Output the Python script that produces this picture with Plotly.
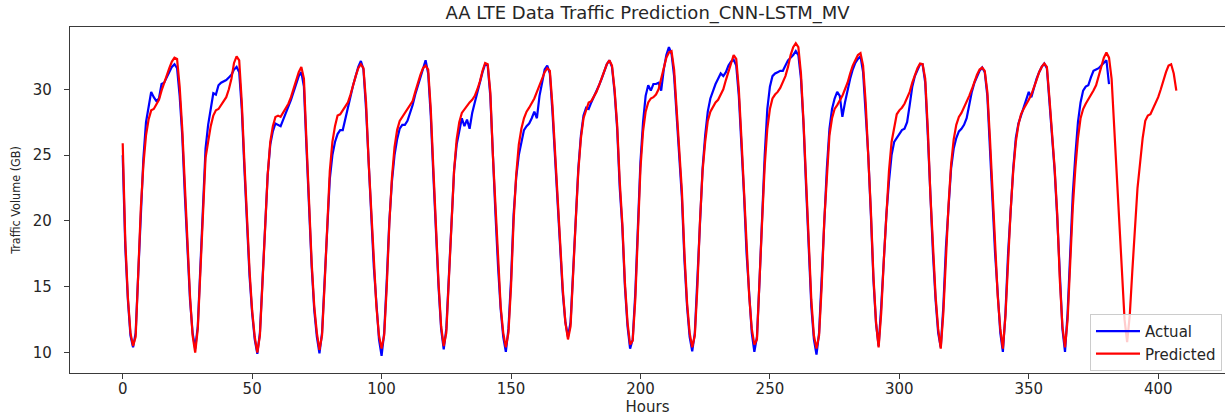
import plotly.graph_objects as go

# Hourly LTE traffic volume (GB), one day per line
actual_gb = [
    25.0, 18.0, 14.0, 11.3, 10.4, 11.5, 16.0, 21.0, 24.8, 27.5, 28.8, 29.8, 29.4, 29.1, 29.3, 30.4, 30.5, 30.9, 31.3, 31.7, 31.9, 31.6, 29.5, 26.5,
    22.0, 17.5, 14.0, 11.5, 10.3, 12.0, 16.5, 21.5, 25.5, 27.3, 28.6, 29.7, 29.6, 30.3, 30.5, 30.6, 30.7, 30.9, 31.1, 31.5, 31.7, 31.3, 28.5, 24.0,
    19.5, 15.8, 13.0, 11.0, 9.9, 11.5, 15.5, 20.0, 23.5, 25.8, 26.8, 27.4, 27.3, 27.2, 27.7, 28.2, 28.6, 29.2, 29.8, 30.4, 31.0, 31.3, 30.2, 25.5,
    20.5, 16.5, 13.2, 11.2, 9.95, 11.5, 15.5, 20.0, 23.2, 25.0, 26.0, 26.6, 26.9, 26.9, 27.8, 28.7, 29.5, 30.3, 31.0, 31.7, 32.15, 31.5, 28.5, 24.0,
    20.5, 16.5, 13.3, 11.0, 9.75, 11.5, 15.5, 20.0, 23.0, 25.0, 26.2, 27.0, 27.3, 27.3, 27.6, 28.2, 28.8, 29.6, 30.3, 31.0, 31.6, 32.2, 31.2, 28.0,
    23.5, 19.0, 15.0, 11.8, 10.25, 11.8, 15.8, 20.5, 23.8, 25.8, 26.8, 27.8, 27.2, 27.7, 27.0, 28.2, 29.0, 29.8, 30.6, 31.3, 31.9, 31.8, 29.5, 24.5,
    20.5, 16.5, 13.3, 11.2, 10.05, 11.8, 15.5, 20.5, 23.3, 25.0, 26.0, 26.9, 27.2, 27.4, 27.8, 28.3, 27.8, 29.5, 30.5, 31.5, 31.8, 31.2, 28.3, 25.0,
    21.5, 17.5, 14.5, 12.3, 11.2, 12.3, 16.0, 20.5, 24.0, 26.5, 28.0, 28.6, 28.5, 29.0, 29.4, 29.8, 30.3, 30.8, 31.3, 31.9, 32.2, 31.7, 29.8, 27.0,
    22.5, 19.5, 15.0, 12.0, 10.3, 11.0, 14.5, 20.0, 24.5, 27.5, 29.5, 30.3, 29.9, 30.4, 30.4, 30.5, 29.9, 31.5, 32.6, 33.2, 32.7, 31.0, 28.0, 24.5,
    21.8, 17.0, 13.5, 11.2, 10.1, 11.5, 15.5, 20.5, 24.0, 26.5, 28.3, 29.3, 29.9, 30.4, 30.8, 31.2, 31.0, 31.3, 31.8, 32.1, 32.25, 31.8, 29.5, 26.0,
    22.0, 17.5, 14.0, 11.5, 10.05, 11.2, 15.5, 20.5, 25.0, 28.5, 30.2, 31.0, 31.2, 31.3, 31.4, 31.4, 31.8, 32.2, 32.4, 32.6, 32.9, 32.6, 30.8, 27.3,
    22.5, 17.5, 13.5, 11.0, 9.85, 11.5, 15.5, 20.5, 24.0, 27.0, 28.5, 29.3, 29.8, 29.5, 27.9, 29.0, 30.0, 30.8, 31.5, 32.0, 32.3, 32.5, 31.3, 28.5,
    25.0, 20.5, 15.5, 12.2, 10.5, 13.5, 17.5, 20.5, 23.0, 25.0, 26.0, 26.3, 26.6, 26.9, 27.0, 27.5, 28.8, 30.2, 31.0, 31.5, 31.9, 31.9, 30.5, 26.5,
    21.5, 17.5, 14.0, 11.5, 10.4, 13.5, 18.0, 21.5, 24.0, 25.5, 26.3, 26.8, 27.0, 27.3, 27.8, 28.8, 29.8, 30.5, 31.0, 31.4, 31.65, 31.3, 29.5, 26.0,
    21.5, 17.5, 14.0, 11.5, 10.05, 13.0, 17.5, 21.0, 24.0, 26.3, 27.4, 28.0, 28.6, 29.3, 29.8, 29.4, 30.2, 30.8, 31.3, 31.7, 31.95, 31.6, 29.0, 26.5,
    23.8, 20.2, 15.3, 11.8, 10.05, 13.0, 17.5, 22.0, 25.0, 27.5, 29.0, 29.9, 30.2, 30.3, 30.9, 31.4, 31.5, 31.6, 31.8, 32.0, 32.2, 30.4,
]

predicted_gb = [
    25.9, 18.5, 14.2, 11.5, 10.5, 11.2, 16.0, 21.0, 24.3, 26.5, 27.7, 28.4, 28.5, 28.8, 29.2, 29.9, 30.5, 31.0, 31.6, 32.1, 32.4, 32.3, 30.2, 27.0,
    22.5, 18.0, 14.3, 11.3, 10.0, 11.8, 16.0, 21.0, 24.8, 26.0, 27.2, 28.0, 28.4, 28.5, 28.8, 29.1, 29.4, 30.0, 30.8, 32.0, 32.5, 32.2, 29.0, 24.5,
    20.0, 16.2, 13.2, 11.2, 10.0, 11.3, 15.3, 19.8, 23.5, 26.0, 27.2, 27.9, 28.0, 27.9, 28.2, 28.6, 28.9, 29.4, 30.0, 30.6, 31.3, 31.7, 30.8, 26.0,
    21.0, 16.8, 13.5, 11.5, 10.2, 11.3, 15.2, 20.0, 23.8, 26.0, 27.2, 28.0, 28.1, 28.4, 28.7, 29.0, 29.6, 30.4, 31.0, 31.6, 31.9, 31.6, 29.0, 24.5,
    21.0, 16.8, 13.5, 11.3, 10.3, 11.3, 15.0, 19.8, 23.3, 25.6, 26.9, 27.6, 27.9, 28.1, 28.4, 28.7, 29.1, 29.8, 30.5, 31.1, 31.6, 31.8, 31.5, 28.5,
    24.0, 19.5, 15.3, 12.0, 10.5, 11.5, 15.5, 20.2, 23.8, 26.2, 27.5, 28.2, 28.5, 28.7, 29.0, 29.2, 29.5, 30.0, 30.6, 31.4, 32.0, 31.9, 29.8, 25.0,
    21.0, 16.8, 13.5, 11.5, 10.4, 11.5, 15.0, 20.0, 23.5, 25.8, 27.0, 27.8, 28.3, 28.6, 28.9, 29.3, 29.8, 30.3, 30.9, 31.3, 31.6, 31.4, 28.8, 25.3,
    22.0, 18.0, 14.8, 12.3, 11.0, 12.0, 15.5, 20.0, 23.8, 26.3, 27.8, 28.5, 29.0, 29.1, 29.4, 29.8, 30.3, 30.8, 31.3, 31.9, 32.2, 31.8, 30.0, 27.3,
    23.0, 19.8, 15.3, 12.3, 10.6, 10.9, 14.0, 19.5, 24.0, 26.8, 28.3, 29.0, 29.3, 29.4, 29.6, 30.0, 30.8, 31.6, 32.4, 32.8, 32.9, 31.5, 28.3, 24.8,
    22.3, 17.5, 13.8, 11.5, 10.4, 11.3, 15.0, 20.0, 23.8, 26.0, 27.6, 28.3, 28.7, 29.0, 29.2, 29.6, 30.0, 30.7, 31.3, 32.0, 32.6, 32.3, 30.0, 26.3,
    22.5, 18.0, 14.3, 11.8, 10.6, 11.0, 15.0, 20.0, 24.2, 27.0, 28.5, 29.3, 29.6, 29.8, 30.1, 30.5, 31.0, 31.7, 32.6, 33.2, 33.5, 33.2, 31.2, 27.5,
    23.0, 18.0, 14.0, 11.3, 10.3, 11.3, 15.0, 20.0, 23.8, 26.5, 27.8, 28.5, 28.8, 29.1, 29.5, 30.0, 30.5, 31.2, 31.8, 32.2, 32.6, 32.75, 31.8, 29.0,
    25.0, 20.8, 15.8, 12.3, 10.4, 13.0, 17.0, 20.8, 23.8, 26.0, 27.2, 28.1, 28.4, 28.6, 28.9, 29.3, 29.8, 30.5, 31.1, 31.6, 31.95, 31.9, 30.8, 27.0,
    22.0, 17.8, 14.3, 11.8, 10.3, 13.0, 17.5, 21.2, 24.3, 26.2, 27.3, 27.9, 28.2, 28.6, 29.0, 29.5, 30.0, 30.6, 31.1, 31.5, 31.65, 31.4, 29.8, 26.3,
    22.0, 17.8, 14.3, 11.8, 10.3, 12.8, 17.2, 20.8, 23.8, 26.0, 27.3, 28.1, 28.5, 28.8, 29.2, 29.6, 30.1, 30.7, 31.3, 31.7, 31.95, 31.7, 29.3, 26.8,
    24.0, 20.5, 15.5, 12.0, 10.4, 12.5, 17.0, 21.0, 24.0, 26.3, 27.8, 28.5, 28.9, 29.2, 29.5, 29.9, 30.3, 31.0, 31.8, 32.4, 32.8, 32.4, 30.8, 27.0,
    23.0, 19.8, 15.5, 12.5, 10.8, 12.8, 16.2, 19.8, 22.5, 24.4, 26.3, 27.6, 28.0, 28.1, 28.5, 28.9, 29.4, 30.0, 30.7, 31.3, 31.8, 31.9, 31.2, 29.9,
]

hours_actual = list(range(len(actual_gb)))
hours_predicted = list(range(len(predicted_gb)))

x_ticks = [0, 50, 100, 150, 200, 250, 300, 350, 400]
y_ticks = [10, 15, 20, 25, 30]

title_text = "AA LTE Data Traffic Prediction_CNN-LSTM_MV"
x_label = "Hours"
y_label = "Traffic Volume (GB)"

axis_color = "#3a3a3a"
text_color = "#262626"
font_main = "DejaVu Sans, Liberation Sans, sans-serif"

fig = go.Figure()
fig.add_trace(go.Scatter(
    x=hours_actual, y=actual_gb, mode="lines", name="Actual",
    line=dict(color="#0000ff", width=2.2),
))
fig.add_trace(go.Scatter(
    x=hours_predicted, y=predicted_gb, mode="lines", name="Predicted",
    line=dict(color="#ff0000", width=2.2),
))

fig.update_layout(
    width=1225, height=416,
    margin=dict(l=70, r=0, t=27, b=43, autoexpand=False),
    paper_bgcolor="white", plot_bgcolor="white",
    font=dict(family=font_main, color=text_color, size=15),
    title=dict(
        text=title_text, x=0.5, xref="paper", xanchor="center",
        y=1 - 13 / 416, yref="container", yanchor="middle",
        font=dict(family=font_main, size=18, color=text_color),
    ),
    showlegend=True,
    legend=dict(
        x=0.9974, y=0.006, xanchor="right", yanchor="bottom",
        bgcolor="rgba(255,255,255,0.8)", bordercolor="#cccccc", borderwidth=1,
        font=dict(family=font_main, size=15, color=text_color),
        itemwidth=44, tracegroupgap=0,
    ),
    xaxis=dict(
        range=[-20.36, 425.8], tickmode="array", tickvals=x_ticks,
        showgrid=False, zeroline=False, automargin=False,
        showline=True, linecolor=axis_color, linewidth=1.2, mirror=True,
        ticks="outside", ticklen=5, tickcolor=axis_color, tickwidth=1.2,
        ticklabelstandoff=-3,
        tickfont=dict(size=15, color=text_color),
        title=dict(text=x_label, standoff=2, font=dict(size=15, color=text_color)),
    ),
    yaxis=dict(
        range=[8.45, 34.73], tickmode="array", tickvals=y_ticks,
        showgrid=False, zeroline=False, automargin=False,
        showline=True, linecolor=axis_color, linewidth=1.2, mirror=False,
        ticks="outside", ticklen=5, tickcolor=axis_color, tickwidth=1.2,
        ticklabelstandoff=9,
        tickfont=dict(size=15, color=text_color),
        title=dict(text=y_label, standoff=9,
                   font=dict(family="DejaVu Sans Condensed, Liberation Sans Narrow, DejaVu Sans", size=12.5, color=text_color)),
    ),
)

fig.write_html(
    "out.html",
    config={"displayModeBar": False},
    post_script="document.body.style.margin='0';document.body.style.overflow='hidden';",
)
